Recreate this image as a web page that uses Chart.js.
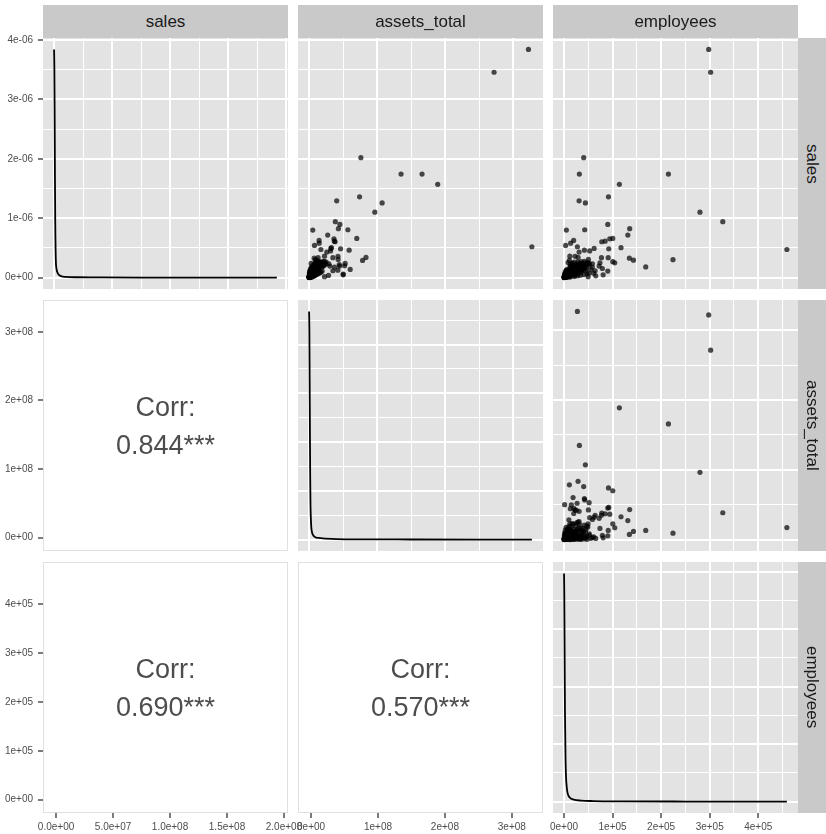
<!DOCTYPE html>
<html>
<head>
<meta charset="utf-8">
<script src="https://cdn.jsdelivr.net/npm/chart.js@4.4.1/dist/chart.umd.min.js"></script>
<style>
html,body{margin:0;padding:0;background:#ffffff;}
#fig{position:relative;width:826px;height:834px;overflow:hidden;background:#ffffff;font-family:"Liberation Sans",Arial,Helvetica,sans-serif;}
#fig canvas{position:absolute;left:0;top:0;}
.strip{position:absolute;background:#C9C9C9;color:#1A1A1A;font-size:17px;display:flex;align-items:center;justify-content:center;white-space:nowrap;}
.strip.right span{writing-mode:vertical-rl;}
.corr{position:absolute;color:#4D4D4D;font-size:27px;line-height:38px;display:flex;flex-direction:column;align-items:center;justify-content:center;white-space:nowrap;}
</style>
</head>
<body>
<div id="fig"></div>
<script>
// ---------------- data ----------------
const variables = ['sales', 'assets_total', 'employees'];

// per firm: sales (millions), total assets (millions), employees (thousands)
const salesM = [
  192, 172.8, 26.0, 100.9, 87.1, 87.1, 78.5, 64.6, 68.0, 62.9, 55.1, 47.1, 23.7, 15.1, 9.0, 44.8, 41.2, 35.8, 30.2, 30.7,
  32.7, 33.0, 40.0, 40.3, 25.2, 23.1, 29.0, 27.1, 24.3, 22.5, 24.6, 21.5, 16.8, 16.8, 17.0, 16.4, 14.7, 14.5, 13.4, 12.5,
  12.5, 15.3, 12.0, 11.7, 8.8, 6.9, 6.9, 5.8, 6.3, 2.4, 1.9, 0.8, 2.4, 5.5, 3.8, 7.7, 1.5, 4.0, 10.0, 3.0,
  11.0, 18.0, 9.7, 9.7, 31.3, 18.1,
  0.05, 0.1, 0.2, 0.3, 0.15, 0.4, 0.5, 0.6, 0.7, 0.25, 0.9, 1.0, 1.1, 1.2, 1.3, 0.35, 0.45, 0.8, 1.4, 1.5,
  1.6, 1.7, 1.8, 1.9, 0.55, 0.65, 0.95, 1.05, 1.25, 1.45,
  2.0, 2.2, 2.4, 2.6, 2.8, 3.0, 3.2, 3.4, 3.6, 3.8, 4.0, 4.2, 4.4, 4.6, 4.8, 5.0, 5.2, 5.4, 5.6, 5.8,
  6.0, 6.2, 6.4, 6.6, 6.8, 7.0, 7.2, 7.4, 7.6, 7.8, 2.5, 3.3, 4.3, 5.7, 6.5, 3.1, 4.9, 2.1, 5.9, 7.1,
  8.0, 8.3, 8.6, 8.9, 9.2, 9.5, 9.8, 10.1, 10.4, 10.7, 11.0, 11.3, 11.6, 11.9, 12.2, 12.5, 12.8, 13.1, 13.4, 13.7,
  8.4, 9.6, 10.9, 12.0, 13.0,
  0.2, 0.4, 0.6, 0.9, 1.1, 1.3, 1.6, 1.9, 2.3, 2.7, 3.0, 3.4, 3.9, 4.4, 4.9, 5.3, 5.9, 6.4, 7.0, 7.5,
  0.3, 0.7, 1.2, 1.7, 2.2, 2.9, 3.5, 4.1, 4.7, 5.5, 0.5, 1.0, 1.5, 2.0, 2.6, 3.2, 8.7, 9.9, 11.4, 12.7
];
const assetsM = [
  322, 271.5, 327, 76.0, 135, 165.8, 188.8, 40.5, 74.1, 107.2, 96.5, 38.5, 17.3, 9.2, 13.2, 45.2, 43.0, 27.3, 38.1, 37.1,
  36.5, 70.0, 5.4, 56.9, 32.8, 58.8, 14.7, 7.9, 46.2, 31.5, 31.9, 26.0, 34.9, 13.2, 83.5, 7.5, 11.8, 78.5, 22.7, 17.0,
  16.0, 42.6, 52.9, 29.0, 37.4, 60.3, 12.0, 34.9, 42.2, 50.0, 28.5, 22.6, 2.6, 5.5, 4.0, 6.0, 1.7, 6.5, 52.1, 50.1,
  44.3, 42.4, 30.5, 44.7, 14.7, 22.6,
  0.1, 0.3, 0.2, 0.6, 0.4, 0.9, 0.3, 1.1, 0.5, 0.8, 1.4, 0.7, 1.8, 1.0, 2.2, 0.15, 1.3, 2.0, 0.4, 2.6,
  1.6, 0.9, 2.9, 1.2, 0.05, 1.7, 0.2, 2.4, 0.6, 1.9,
  3.4, 1.5, 4.5, 2.3, 5.6, 3.0, 6.4, 1.8, 7.3, 4.1, 8.5, 2.7, 5.0, 9.6, 3.6, 6.8, 10.7, 4.4, 7.9, 11.9,
  5.3, 2.1, 9.0, 12.8, 6.2, 3.9, 10.3, 14.0, 7.0, 4.8, 0.9, 8.9, 0.6, 1.3, 3.2, 12.1, 13.3, 6.9, 8.3, 5.7,
  9.4, 15.2, 12.3, 18.6, 10.9, 20.4, 14.6, 17.1, 22.3, 13.1, 19.7, 24.1, 16.2, 21.5, 11.2, 23.0, 18.0, 25.0, 15.5, 20.9,
  4.2, 6.6, 8.1, 2.9, 9.9,
  0.7, 1.5, 0.3, 2.7, 0.5, 3.5, 1.0, 4.2, 0.8, 5.2, 1.4, 6.1, 2.5, 7.6, 1.1, 8.8, 2.4, 10.0, 1.9, 11.4,
  3.1, 4.9, 6.3, 8.0, 9.4, 11.0, 13.6, 15.8, 17.5, 19.2, 0.1, 0.25, 0.6, 0.35, 0.9, 0.45, 3.0, 5.2, 7.3, 13.9
];
const employeesK = [
  298, 302, 27.5, 40.5, 31.6, 215, 114, 31, 91.5, 44, 280, 327, 459, 224.4, 168.3, 90.1, 135.2, 131.4, 77.7, 84.7,
  94.2, 100.4, 4.8, 42.6, 117.4, 41.9, 13.6, 3.3, 92.1, 52.9, 62.0, 31.0, 77.1, 91.0, 28.9, 134.6, 143.0, 11.0, 100.4, 104.5,
  74.0, 50.2, 51.7, 58.5, 20.0, 18.6, 37.8, 64.0, 25.0, 15.0, 10.0, 49.6, 80.6, 90.1, 61.0, 79.0, 65.3, 51.7, 26.9, 1.2,
  13.0, 22.7, 72.3, 20.0, 19.8, 12.0,
  0.2, 0.5, 0.9, 0.4, 1.3, 1.8, 0.7, 2.5, 3.2, 1.1, 2.2, 4.1, 3.0, 5.3, 1.6, 2.8, 0.3, 6.2, 3.9, 4.6,
  7.1, 2.0, 5.9, 7.8, 1.5, 0.8, 6.6, 3.5, 0.5, 8.3,
  4.4, 9.6, 6.8, 12.4, 3.1, 10.9, 15.3, 8.1, 5.6, 17.7, 11.5, 20.2, 7.4, 14.9, 24.0, 2.7, 19.1, 27.5, 9.8, 22.6,
  13.2, 31.0, 16.4, 6.0, 34.5, 21.1, 26.3, 11.0, 29.6, 38.2, 16.5, 2.3, 13.8, 18.4, 4.9, 9.1, 25.2, 22.8, 36.7, 42.5,
  18.0, 27.8, 33.4, 14.6, 40.1, 23.5, 45.3, 30.9, 19.3, 36.0, 47.2, 25.8, 39.4, 32.2, 44.0, 16.9, 49.0, 28.7, 35.2, 41.8,
  46.5, 12.5, 52.0, 38.3, 21.7,
  3.6, 5.0, 7.5, 9.2, 11.8, 6.4, 14.2, 2.9, 19.6, 12.9, 26.1, 4.0, 30.4, 16.0, 35.6, 8.7, 44.8, 23.9, 55.0, 15.6,
  0.6, 1.9, 0.9, 3.7, 1.4, 5.8, 2.6, 7.9, 4.3, 10.4, 12.7, 21.4, 28.3, 33.9, 40.7, 47.5, 58.2, 29.9, 17.2, 8.4
];
const variableUnits = [1e6, 1e6, 1e3];

// kernel density curves
const salesDensityX = [0, 0.25, 0.5, 0.75, 1.0, 1.5, 2, 3, 4, 6, 10, 20, 40, 80, 140, 192];           // millions
const salesDensityY = [3.84, 3.5, 2.7, 1.7, 0.95, 0.3, 0.16, 0.08, 0.05, 0.025, 0.012, 0.006, 0.003, 0.0015, 0.0008, 0.0005]; // 1e-6
const assetsDensityX = [0, 0.4, 0.8, 1.2, 1.6, 2, 3, 4, 6, 9, 14, 20, 40, 80, 150, 250, 327];        // millions
const assetsDensityY = [4.68, 4.3, 3.3, 2.2, 1.3, 0.75, 0.3, 0.17, 0.09, 0.05, 0.035, 0.025, 0.012, 0.006, 0.003, 0.0015, 0.001]; // 1e-6
const employeesDensityX = [0, 0.5, 1, 1.5, 2, 3, 4, 6, 8, 12, 20, 35, 60, 120, 250, 459];           // thousands
const employeesDensityY = [3.97, 3.6, 2.9, 2.1, 1.5, 0.8, 0.45, 0.22, 0.13, 0.07, 0.035, 0.018, 0.01, 0.005, 0.002, 0.001]; // 1e-5
const densityUnits = [1e-6, 1e-6, 1e-5];

// correlations (lower triangle: [2,1], [3,1], [3,2])
const corrValues = [0.844, 0.690, 0.570];
const corrStars = ['***', '***', '***'];

// tick values and labels
const salesTicks = [0, 5e7, 1e8, 1.5e8, 2e8];
const salesTickLabels = ['0.0e+00', '5.0e+07', '1.0e+08', '1.5e+08', '2.0e+08'];
const assetsTicks = [0, 1e8, 2e8, 3e8];
const assetsTickLabels = ['0e+00', '1e+08', '2e+08', '3e+08'];
const employeesTicks = [0, 1e5, 2e5, 3e5, 4e5];
const employeesTickLabels = ['0e+00', '1e+05', '2e+05', '3e+05', '4e+05'];
const salesDensityTicks = [0, 1e-6, 2e-6, 3e-6, 4e-6];
const salesDensityTickLabels = ['0e+00', '1e-06', '2e-06', '3e-06', '4e-06'];
const assetsDensityTicks = [0, 1e-6, 2e-6, 3e-6, 4e-6];
const employeesDensityTicks = [0, 1e-5, 2e-5, 3e-5, 4e-5];

// ---------------- assembly ----------------
const values = [salesM, assetsM, employeesK].map((arr, v) => arr.map(x => x * variableUnits[v]));
const densX = [salesDensityX, assetsDensityX, employeesDensityX];
const densY = [salesDensityY, assetsDensityY, employeesDensityY];
const varTicks = [salesTicks, assetsTicks, employeesTicks];
const varTickLabels = [salesTickLabels, assetsTickLabels, employeesTickLabels];
const densTicks = [salesDensityTicks, assetsDensityTicks, employeesDensityTicks];
const densTickLabels = [salesDensityTickLabels, null, null];
const corrCells = [[1, 0], [2, 0], [2, 1]];

const FONT = "'Liberation Sans', Arial, Helvetica, sans-serif";
const W = 826, H = 834;
const colLeft = [43, 298, 553], rowTop = [38, 300, 562];
const PW = 245, PH = 251;
const fig = document.getElementById('fig');

function expandRange(arr, f) {
  const mn = Math.min(...arr), mx = Math.max(...arr), d = mx - mn;
  return [mn - f * d, mx + f * d];
}
function tickObjects(majors, min, max) {
  const step = majors[1] - majors[0];
  const out = [{ value: majors[0] - step / 2, minor: true }];
  majors.forEach(m => { out.push({ value: m, minor: false }); out.push({ value: m + step / 2, minor: true }); });
  return out.filter(t => t.value >= min && t.value <= max);
}
function makeScale(pos, range, majors, labels, showLabels, drawGrid, fixedSize) {
  return {
    type: 'linear', position: pos, min: range[0], max: range[1], bounds: 'data',
    afterBuildTicks: s => { s.ticks = tickObjects(majors, range[0], range[1]); },
    afterFit: s => { if (pos === 'left') s.width = fixedSize; else s.height = fixedSize; },
    border: { display: false },
    grid: {
      display: true, drawOnChartArea: drawGrid, drawTicks: showLabels, tickLength: 5,
      color: '#FFFFFF',
      lineWidth: ctx => (ctx.tick && ctx.tick.minor) ? 1 : 2,
      tickColor: ctx => (ctx.tick && ctx.tick.minor) ? 'rgba(0,0,0,0)' : '#333333',
      tickWidth: 1.3
    },
    ticks: {
      display: showLabels, autoSkip: false, maxRotation: 0, minRotation: 0,
      padding: pos === 'left' ? 5 : 3, color: '#4D4D4D', font: { family: FONT, size: 10 },
      callback: (v, i, ts) => (ts[i] && ts[i].minor) ? '' : (labels ? labels[majors.indexOf(v)] : '')
    }
  };
}
function panelBackground(kind) {
  return {
    id: 'panelBg',
    beforeDraw(chart) {
      const a = chart.chartArea, ctx = chart.ctx;
      ctx.save();
      if (kind === 'corr') {
        ctx.fillStyle = '#FFFFFF';
        ctx.fillRect(a.left, a.top, a.right - a.left, a.bottom - a.top);
        ctx.strokeStyle = '#E0E0E0'; ctx.lineWidth = 1;
        ctx.strokeRect(a.left + 0.5, a.top + 0.5, a.right - a.left - 1, a.bottom - a.top - 1);
      } else {
        ctx.fillStyle = '#E3E3E3';
        ctx.fillRect(a.left, a.top, a.right - a.left, a.bottom - a.top);
      }
      ctx.restore();
    }
  };
}

for (let r = 0; r < 3; r++) {
  for (let c = 0; c < 3; c++) {
    const kind = r === c ? 'density' : (r < c ? 'scatter' : 'corr');
    const left = colLeft[c], top = rowTop[r], right = left + PW, bottom = top + PH;
    const isLeft = c === 0, isBottom = r === 2;
    const f = kind === 'corr' ? 0.06 : 0.05;
    const xRange = expandRange(values[c], f);
    let yRange, yTicks, yLabels;
    let datasets = [];
    if (kind === 'density') {
      const dy = densY[r].map(v => v * densityUnits[r]);
      yRange = expandRange(dy, 0.05);
      yTicks = densTicks[r]; yLabels = densTickLabels[r];
      datasets.push({
        data: densX[r].map((x, i) => ({ x: x * variableUnits[r], y: dy[i] })),
        showLine: true, pointRadius: 0, borderColor: '#000000', borderWidth: 1.8,
        cubicInterpolationMode: 'monotone', fill: false
      });
    } else {
      yRange = expandRange(values[r], f);
      yTicks = varTicks[r]; yLabels = varTickLabels[r];
      if (kind === 'scatter') {
        datasets.push({
          data: values[c].map((x, i) => ({ x: x, y: values[r][i] })),
          pointRadius: 2.6, pointBackgroundColor: 'rgba(0,0,0,0.7)', pointBorderWidth: 0,
          showLine: false
        });
      }
    }
    const canvas = document.createElement('canvas');
    canvas.width = W; canvas.height = H;
    canvas.style.width = W + 'px'; canvas.style.height = H + 'px';
    fig.appendChild(canvas);
    new Chart(canvas, {
      type: 'scatter',
      data: { datasets },
      options: {
        responsive: false, animation: false, devicePixelRatio: 1, events: [],
        layout: {
          autoPadding: false,
          padding: { left: isLeft ? 0 : left, right: W - right, top: top, bottom: isBottom ? 0 : H - bottom }
        },
        plugins: { legend: { display: false }, tooltip: { enabled: false }, title: { display: false } },
        scales: {
          x: makeScale('bottom', xRange, varTicks[c], varTickLabels[c], isBottom, kind !== 'corr', isBottom ? H - bottom : 0),
          y: makeScale('left', yRange, yTicks, yLabels, isLeft, kind !== 'corr', isLeft ? left : 0)
        }
      },
      plugins: [panelBackground(kind)]
    });
  }
}

// strips
variables.forEach((name, c) => {
  const d = document.createElement('div');
  d.className = 'strip';
  d.style.left = colLeft[c] + 'px'; d.style.top = '5px';
  d.style.width = PW + 'px'; d.style.height = '33px';
  d.textContent = name;
  fig.appendChild(d);
});
variables.forEach((name, r) => {
  const d = document.createElement('div');
  d.className = 'strip right';
  d.style.left = (colLeft[2] + PW) + 'px'; d.style.top = rowTop[r] + 'px';
  d.style.width = (W - colLeft[2] - PW) + 'px'; d.style.height = PH + 'px';
  const s = document.createElement('span'); s.textContent = name;
  d.appendChild(s);
  fig.appendChild(d);
});
// correlation text
corrCells.forEach(([r, c], k) => {
  const d = document.createElement('div');
  d.className = 'corr';
  d.style.left = colLeft[c] + 'px'; d.style.top = rowTop[r] + 'px';
  d.style.width = PW + 'px'; d.style.height = PH + 'px';
  const l1 = document.createElement('div'); l1.textContent = 'Corr:';
  const l2 = document.createElement('div'); l2.textContent = corrValues[k].toFixed(3) + corrStars[k];
  d.appendChild(l1); d.appendChild(l2);
  fig.appendChild(d);
});
</script>
</body>
</html>
